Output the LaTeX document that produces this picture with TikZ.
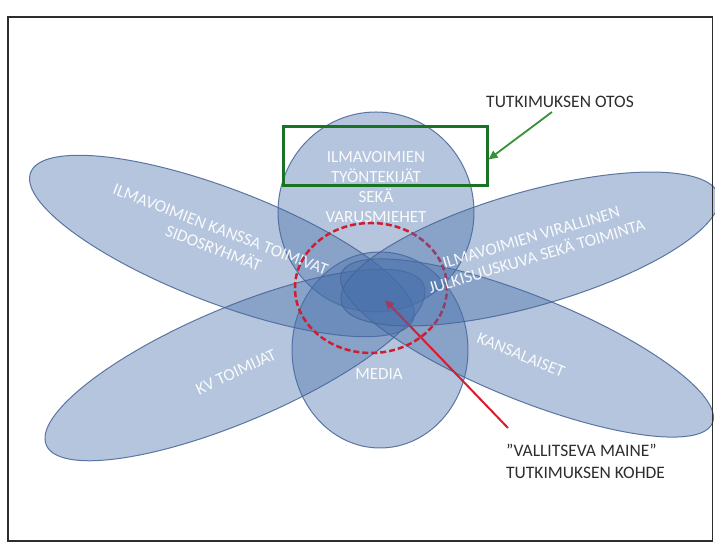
\documentclass[tikz,border=0pt]{standalone}
\usepackage{fontspec}
\setmainfont{Carlito}
\usetikzlibrary{arrows.meta}
\definecolor{petalfill}{RGB}{70,110,170}
\definecolor{petaledge}{RGB}{70,100,150}
\definecolor{otosgreen}{RGB}{25,115,35}
\definecolor{arrowgreen}{RGB}{55,145,55}
\definecolor{mainered}{RGB}{220,25,45}
\definecolor{circred}{RGB}{205,30,50}
\definecolor{labelgray}{RGB}{45,45,45}
\begin{document}
\begin{tikzpicture}[x=1pt,y=1pt,
  petal/.style={fill=petalfill, fill opacity=0.4, draw=petaledge, draw opacity=0.85, line width=1pt},
  petaltext/.style={text=white, text opacity=0.92, font=\fontsize{17}{20}\selectfont, align=center, inner sep=0pt},
  lbltext/.style={text=labelgray, font=\fontsize{17.5}{22}\selectfont, inner sep=0pt},
  redarrow/.style={draw=mainered, line width=2pt, -{Triangle[length=9pt,width=8pt]}},
  greenarrow/.style={draw=arrowgreen, line width=1.8pt, -{Triangle[length=9pt,width=8pt]}}
]
\useasboundingbox (0,0) rectangle (715,543);
\fill[white] (0,0) rectangle (715,543);
\begin{scope}
\clip (0,0) rectangle (715,543);
% top ellipse
\path[petal] (376,331) ellipse [x radius=98, y radius=100];
\node[petaltext] (tT) at (376,356) {ILMAVOIMIEN\\TYÖNTEKIJÄT\\SEKÄ\\VARUSMIEHET};
% media ellipse
\path[petal] (380,193) ellipse [x radius=88, y radius=98];
\node[petaltext] (tM) at (379,169) {MEDIA};
% upper-left petal
\path[petal, rotate around={-21:(222,297)}] (222,297) ellipse [x radius=205, y radius=57];
\node[petaltext, rotate=-21] (tA) at (217,304) {ILMAVOIMIEN KANSSA TOIMIVAT\\SIDOSRYHMÄT};
% lower-left petal
\path[petal, rotate around={23:(235,178)}] (235,178) ellipse [x radius=205, y radius=57];
\node[petaltext, rotate=25] (tC) at (236,171) {KV TOIMIJAT};
% lower-right petal
\path[petal, rotate around={-22:(527,195)}] (527,195) ellipse [x radius=200, y radius=52];
\node[petaltext, rotate=-22] (tD) at (521,188) {KANSALAISET};
% red dashed circle and arrow
\draw[circred, line width=2.5pt, dash pattern=on 6pt off 3pt] (371,255) ellipse [x radius=76, y radius=65];
\coordinate (redstart) at (508,115);
\coordinate (maine) at (385,243);
\draw[redarrow] (redstart) -- (maine);
% upper-right petal
\path[petal, rotate around={16:(530,294)}] (530,294) ellipse [x radius=196, y radius=57];
\node[petaltext, rotate=16.5] (tB) at (534,296) {ILMAVOIMIEN VIRALLINEN\\JULKISUUSKUVA SEKÄ TOIMINTA};
\end{scope}
% green sample box and arrow
\node[draw=otosgreen, line width=3pt, minimum width=204pt, minimum height=59pt, inner sep=0pt] (otosbox) at (385,386.5) {};
\node[lbltext] (otos) at (560,441) {TUTKIMUKSEN OTOS};
\coordinate (otosstart) at (552,431);
\draw[greenarrow] (otosstart) -- ([yshift=-3pt]otosbox.east);
% target label
\node[lbltext, anchor=west, align=left] (kohde) at (506,82) {”VALLITSEVA MAINE”\\TUTKIMUKSEN KOHDE};
% frame
\draw[labelgray, line width=1.5pt] (8,2) rectangle (712.5,526);
\end{tikzpicture}
\end{document}
